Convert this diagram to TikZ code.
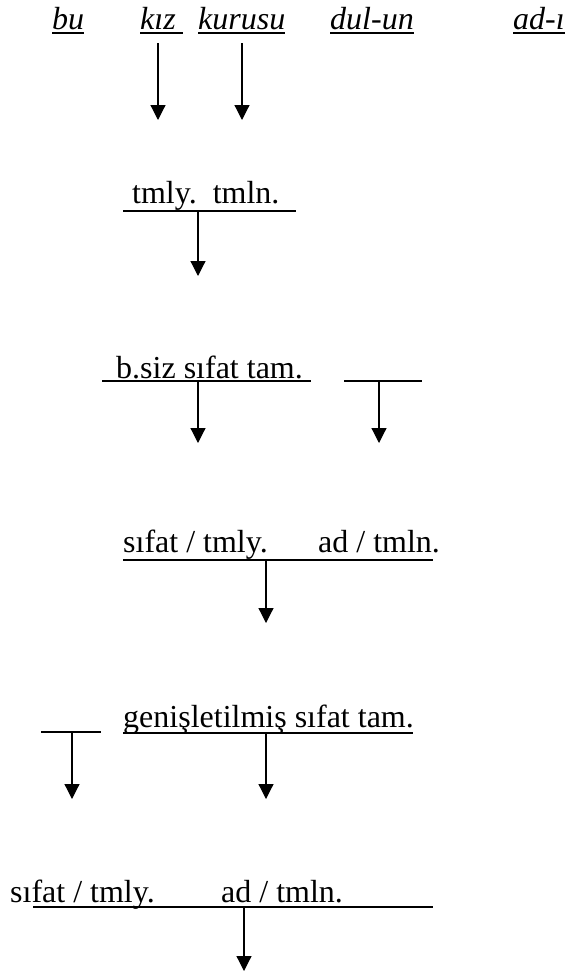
\documentclass[tikz,border=0pt]{standalone}
\usepackage{fontspec}
\setmainfont{Liberation Serif}
\usetikzlibrary{arrows.meta}
\begin{document}
\begin{tikzpicture}[x=1pt,y=-1pt,
  lbl/.style={inner sep=0pt,anchor=base west,font=\fontsize{32}{38}\selectfont},
  word/.style={lbl,font=\fontsize{32}{38}\selectfont\itshape},
  bar/.style={line width=1.2pt},
  uline/.style={line width=1.6pt},
  arr/.style={line width=1.2pt,-{Triangle[length=15pt,width=15pt]}}]
\useasboundingbox (0,0) rectangle (567,972);
% row 1
\node[word] (bu) at (52,29) {bu};
\node[word] (kiz) at (140,29) {kız};
\node[word] (kurusu) at (198,29) {kurusu};
\node[word] (dulun) at (330,29) {dul-un};
\node[word] (adi) at (513,29) {ad-ı};
\draw[uline] (52,33) -- (84,33);
\draw[uline] (140,33) -- (183,33);
\draw[uline] (198,33) -- (285,33);
\draw[uline] (330,33) -- (414,33);
\draw[uline] (513,33) -- (565,33);
\coordinate (a1s) at (158,43); \coordinate (a1e) at (158,120);
\coordinate (a2s) at (242,43); \coordinate (a2e) at (242,120);
\draw[arr] (a1s) -- (a1e);
\draw[arr] (a2s) -- (a2e);
% row 2
\node[lbl] (r2) at (132,203) {tmly.\ \ tmln.};
\coordinate (r2l) at (123,211); \coordinate (r2r) at (296,211);
\coordinate (r2a) at (198,211); \coordinate (r2e) at (198,276);
\draw[bar] (r2l) -- (r2r);
\draw[arr] (r2a) -- (r2e);
% row 3
\node[lbl] (r3) at (116,378) {b.siz sıfat tam.};
\coordinate (r3l) at (102,381); \coordinate (r3r) at (311,381);
\coordinate (r3a) at (198,381); \coordinate (r3e) at (198,443);
\draw[bar] (r3l) -- (r3r);
\draw[arr] (r3a) -- (r3e);
\coordinate (r3bl) at (344,381); \coordinate (r3br) at (422,381);
\coordinate (r3ba) at (379,381); \coordinate (r3be) at (379,443);
\draw[bar] (r3bl) -- (r3br);
\draw[arr] (r3ba) -- (r3be);
% row 4
\node[lbl] (r4a) at (123,552) {sıfat / tmly.};
\node[lbl] (r4b) at (318,552) {ad / tmln.};
\coordinate (r4l) at (123,560); \coordinate (r4r) at (433,560);
\coordinate (r4s) at (266,560); \coordinate (r4e) at (266,623);
\draw[bar] (r4l) -- (r4r);
\draw[arr] (r4s) -- (r4e);
% row 5
\coordinate (r5l) at (41,732); \coordinate (r5r) at (101,732);
\coordinate (r5s) at (72,732); \coordinate (r5e) at (72,799);
\draw[bar] (r5l) -- (r5r);
\draw[arr] (r5s) -- (r5e);
\node[lbl] (r5) at (123,727) {genişletilmiş sıfat tam.};
\coordinate (r5bl) at (123,733); \coordinate (r5br) at (413,733);
\coordinate (r5bs) at (266,733); \coordinate (r5be) at (266,799);
\draw[bar] (r5bl) -- (r5br);
\draw[arr] (r5bs) -- (r5be);
% row 6
\node[lbl] (r6a) at (10,902) {sıfat / tmly.};
\node[lbl] (r6b) at (221,902) {ad / tmln.};
\coordinate (r6l) at (33,907); \coordinate (r6r) at (433,907);
\coordinate (r6s) at (244,907); \coordinate (r6e) at (244,971);
\draw[bar] (r6l) -- (r6r);
\draw[arr] (r6s) -- (r6e);
\end{tikzpicture}
\end{document}
